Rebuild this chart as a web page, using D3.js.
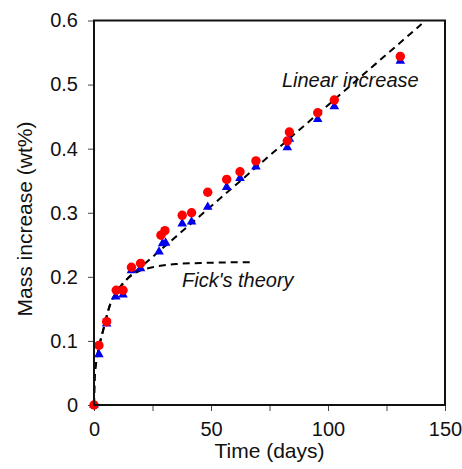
<!DOCTYPE html>
<html>
<head>
<meta charset="utf-8">
<script src="https://cdn.jsdelivr.net/npm/d3@7"></script>
<style>
  body { margin: 0; background: #fff; }
  text { font-family: "Liberation Sans", Arial, Helvetica, sans-serif; fill: #111; }
</style>
</head>
<body>
<div id="chart"></div>
<script>
// red circles (time in days, mass increase wt%)
var redDays = [0, 2.1, 5.4, 9.5, 12.4, 16, 19.9, 28.6, 30.3, 37.7, 41.7, 48.6, 56.7, 62.4, 69.2, 82.6, 83.5, 95.6, 102.7, 130.9];
var redMass = [0, 0.093, 0.130, 0.179, 0.179, 0.215, 0.221, 0.265, 0.272, 0.296, 0.300, 0.332, 0.352, 0.364, 0.381, 0.412, 0.426, 0.456, 0.476, 0.544];

// blue triangles
var blueDays = [0, 2.1, 5.4, 9.3, 12.4, 16, 19.9, 27.8, 29.3, 30.6, 37.7, 41.7, 48.6, 56.7, 62.4, 69.2, 82.6, 83.5, 95.6, 102.7, 130.9];
var blueMass = [0, 0.079, 0.127, 0.169, 0.172, 0.210, 0.213, 0.239, 0.252, 0.253, 0.283, 0.286, 0.309, 0.340, 0.354, 0.372, 0.402, 0.415, 0.446, 0.466, 0.537];

// dashed model curves
var fickDays = [0, 0.3, 1, 2, 4, 7, 10, 14, 20, 25, 35, 50, 68];
var fickMass = [0, 0.045, 0.068, 0.088, 0.118, 0.158, 0.178, 0.196, 0.210, 0.215, 0.220, 0.222, 0.223];
var linDays = [0, 0.3, 1, 2, 4, 7, 10, 14, 20, 30, 140];
var linMass = [0, 0.045, 0.068, 0.088, 0.118, 0.158, 0.178, 0.196, 0.2152, 0.2468, 0.5944];

var xTicks = [0, 25, 50, 75, 100, 125, 150];
var xLabels = [0, 50, 100, 150];
var yTicks = [0, 0.1, 0.2, 0.3, 0.4, 0.5, 0.6];

var margin = {top: 20.5, right: 17, bottom: 64, left: 94};
var W = 462, H = 469;
var width = W - margin.left - margin.right;
var height = H - margin.top - margin.bottom;

var svg = d3.select('#chart').append('svg')
    .attr('width', W)
    .attr('height', H);
var g = svg.append('g').attr('transform', 'translate(' + margin.left + ',' + margin.top + ')');

var x = d3.scaleLinear().domain([0, 150]).range([0, width]);
var y = d3.scaleLinear().domain([0, 0.6]).range([height, 0]);

var xAxis = g.append('g')
    .attr('transform', 'translate(0,' + height + ')')
    .call(d3.axisBottom(x).tickValues(xTicks).tickSize(6).tickPadding(11)
        .tickFormat(function(d){ return xLabels.indexOf(d) >= 0 ? d : ''; }));
var yAxis = g.append('g')
    .call(d3.axisLeft(y).tickValues(yTicks).tickSize(6).tickPadding(10)
        .tickFormat(function(d){ return d === 0 ? '0' : d3.format('.1f')(d); }));
[xAxis, yAxis].forEach(function(a){
    a.select('.domain').remove();
    a.selectAll('line').attr('stroke', '#444').attr('stroke-width', 1);
    a.selectAll('text').style('font-size', '20px').attr('fill', '#111');
});

// dashed curves
var line = d3.line()
    .x(function(d){ return x(d[0]); })
    .y(function(d){ return y(d[1]); })
    .curve(d3.curveMonotoneX);
g.append('path')
    .datum(d3.zip(fickDays, fickMass))
    .attr('d', line)
    .attr('fill', 'none').attr('stroke', '#000').attr('stroke-width', 2)
    .attr('stroke-dasharray', '7,5');
g.append('path')
    .datum(d3.zip(linDays, linMass))
    .attr('d', line)
    .attr('fill', 'none').attr('stroke', '#000').attr('stroke-width', 2)
    .attr('stroke-dasharray', '7,5');

// markers
g.selectAll('path.tri').data(d3.zip(blueDays, blueMass)).enter().append('path')
    .attr('class', 'tri')
    .attr('d', d3.symbol().type(d3.symbolTriangle).size(40))
    .attr('transform', function(d){ return 'translate(' + x(d[0]) + ',' + y(d[1]) + ')'; })
    .attr('fill', '#0000ee');
g.selectAll('circle').data(d3.zip(redDays, redMass)).enter().append('circle')
    .attr('cx', function(d){ return x(d[0]); })
    .attr('cy', function(d){ return y(d[1]); })
    .attr('r', 4.7)
    .attr('fill', '#ff0000');

// frame
g.append('rect')
    .attr('width', width).attr('height', height)
    .attr('fill', 'none').attr('stroke', '#111').attr('stroke-width', 2);

// annotations
g.append('text')
    .attr('x', x(80.3)).attr('y', y(0.496))
    .style('font-size', '20px').style('font-style', 'italic')
    .text('Linear increase');
g.append('text')
    .attr('x', x(37.6)).attr('y', y(0.184))
    .style('font-size', '20px').style('font-style', 'italic')
    .text("Fick's theory");

// axis titles
svg.append('text')
    .attr('x', margin.left + width / 2).attr('y', 458)
    .attr('text-anchor', 'middle')
    .style('font-size', '21px')
    .text('Time (days)');
svg.append('text')
    .attr('transform', 'translate(32,' + 219 + ') rotate(-90)')
    .attr('text-anchor', 'middle')
    .style('font-size', '21px')
    .text('Mass increase (wt%)');
</script>
</body>
</html>
